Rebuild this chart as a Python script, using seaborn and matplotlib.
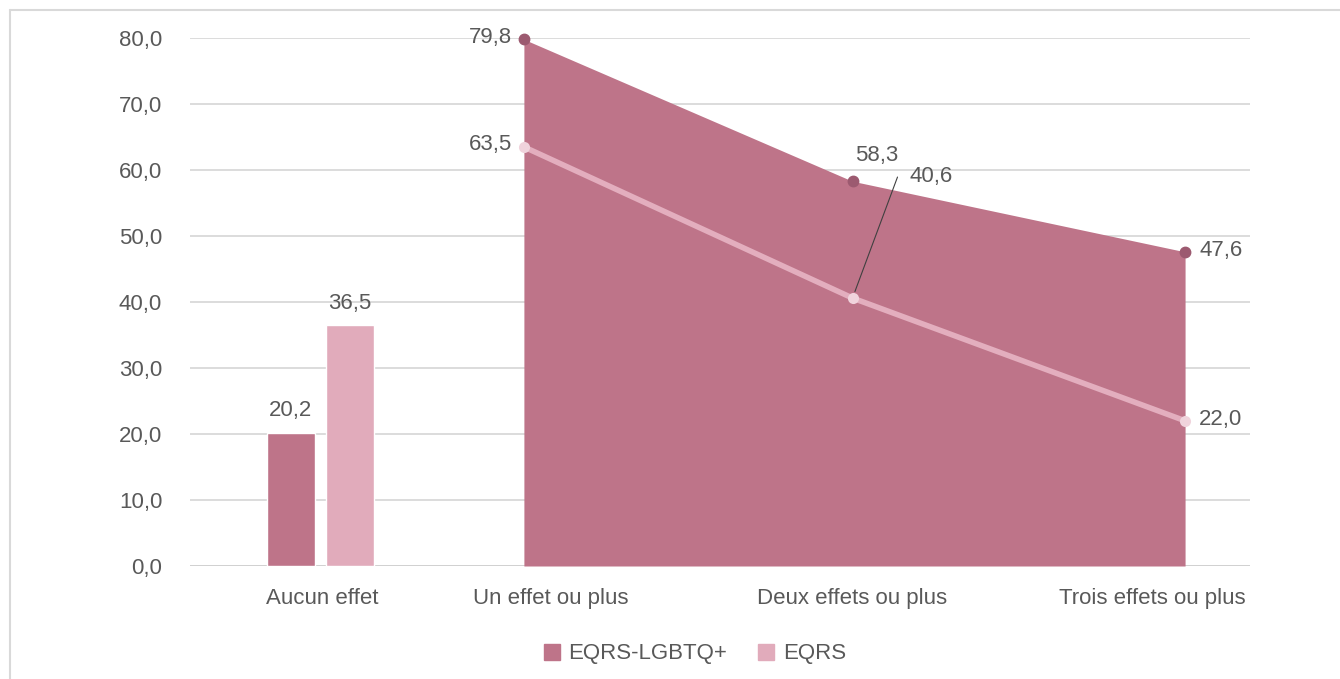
import numpy as np
import pandas as pd
import matplotlib
matplotlib.use('Agg')
import matplotlib.pyplot as plt
import seaborn as sns
from matplotlib.lines import Line2D
from matplotlib.patches import Patch

# data
categories = ['Aucun effet', 'Un effet ou plus', 'Deux effets ou plus', 'Trois effets ou plus']
series_names = ['EQRS-LGBTQ+', 'EQRS']
none_lgbtq = 20.2
none_eqrs = 36.5
lgbtq_vals = [79.8, 58.3, 47.6]
eqrs_vals = [63.5, 40.6, 22.0]
y_ticks = [0, 10, 20, 30, 40, 50, 60, 70, 80]

# colours
dark = '#BE7489'
light = '#E1ABBB'
dark_marker = '#9C5A70'
light_line = '#E3AEBE'
light_marker = '#F0D3DC'
grid_col = '#D9D9D9'
text_col = '#595959'

sns.set_style('white')
plt.rcParams['font.family'] = ['Liberation Sans', 'DejaVu Sans']
FS = 16

# positions (axis units, 4 category slots)
bar_x = [0.381, 0.604]
bar_w = 0.181
pt_x = [1.26, 2.5, 3.755]
label_x = [0.5, 1.36, 2.5, 3.63]

fig = plt.figure(figsize=(13.4, 6.79), dpi=100)
ax = fig.add_axes([190 / 1340, 1 - 566 / 679, 1060 / 1340, 528 / 679])

for y in y_ticks:
    ax.axhline(y, color=grid_col, lw=1.3, zorder=0)
ax.axhline(0, color='#D0D0D0', lw=2, zorder=1)

ax.bar(bar_x[0], none_lgbtq, width=bar_w, color=dark, zorder=2)
ax.bar(bar_x[1], none_eqrs, width=bar_w, color=light, zorder=2)


def fmt(v):
    return f'{v:.1f}'.replace('.', ',')


lab_kw = dict(textcoords='offset pixels', va='center', fontsize=FS, color=text_col)
ax.annotate(fmt(none_lgbtq), (bar_x[0], none_lgbtq), xytext=(0, 22), ha='center', **lab_kw)
ax.annotate(fmt(none_eqrs), (bar_x[1], none_eqrs), xytext=(0, 22), ha='center', **lab_kw)

# area series
ax.fill_between(pt_x, 0, lgbtq_vals, color=dark, lw=0, zorder=2)
ax.plot(pt_x, lgbtq_vals, ls='none', marker='o', ms=7.5, color=dark_marker, zorder=4,
        clip_on=False)

# line series
df = pd.DataFrame({'x': pt_x, 'y': eqrs_vals})
sns.lineplot(data=df, x='x', y='y', ax=ax, color=light_line, lw=4, zorder=3,
             marker='o', markersize=8, markerfacecolor=light_marker,
             markeredgewidth=0)

ax.annotate(fmt(lgbtq_vals[0]), (pt_x[0], lgbtq_vals[0]), xytext=(-12, 2), ha='right', **lab_kw)
ax.annotate(fmt(lgbtq_vals[1]), (pt_x[1], lgbtq_vals[1]), xytext=(24, 26), ha='center', **lab_kw)
ax.annotate(fmt(lgbtq_vals[2]), (pt_x[2], lgbtq_vals[2]), xytext=(14, 1), ha='left', **lab_kw)
ax.annotate(fmt(eqrs_vals[0]), (pt_x[0], eqrs_vals[0]), xytext=(-12, 2), ha='right', **lab_kw)
ax.annotate(fmt(eqrs_vals[2]), (pt_x[2], eqrs_vals[2]), xytext=(14, 1), ha='left', **lab_kw)
# leader line label
ax.annotate('', (pt_x[1], eqrs_vals[1]), xytext=(45, 121), textcoords='offset pixels',
            arrowprops=dict(arrowstyle='-', color='#404040', lw=0.8,
                            shrinkA=0, shrinkB=5))
ax.annotate(fmt(eqrs_vals[1]), (pt_x[1], eqrs_vals[1]), xytext=(57, 122), ha='left', **lab_kw)

ax.set_xlim(0, 4)
ax.set_ylim(0, 80)
ax.set_yticks(y_ticks)
ax.set_yticklabels([fmt(v) for v in y_ticks], fontsize=FS, color=text_col)
ax.set_xticks(label_x)
ax.set_xticklabels(categories, fontsize=FS, color=text_col)
ax.tick_params(axis='both', length=0)
ax.tick_params(axis='y', pad=20)
ax.tick_params(axis='x', pad=16)
ax.set_xlabel('')
ax.set_ylabel('')
for s in ax.spines.values():
    s.set_visible(False)

handles = [Patch(color=dark, label=series_names[0]), Patch(color=light, label=series_names[1])]
fig.legend(handles=handles, loc='center', bbox_to_anchor=(695 / 1340, 1 - 654 / 679),
           ncol=2, frameon=False, fontsize=FS, handlelength=0.7, handleheight=0.7,
           handletextpad=0.4, columnspacing=1.4, labelcolor=text_col)

# outer border (left and top visible)
fig.add_artist(Line2D([10 / 1340, 10 / 1340], [0, 1 - 10 / 679], color=grid_col, lw=1.5,
                      transform=fig.transFigure))
fig.add_artist(Line2D([10 / 1340, 1], [1 - 10 / 679, 1 - 10 / 679], color=grid_col, lw=1.5,
                      transform=fig.transFigure))

fig.savefig('out.png', dpi=100)
plt.close()
